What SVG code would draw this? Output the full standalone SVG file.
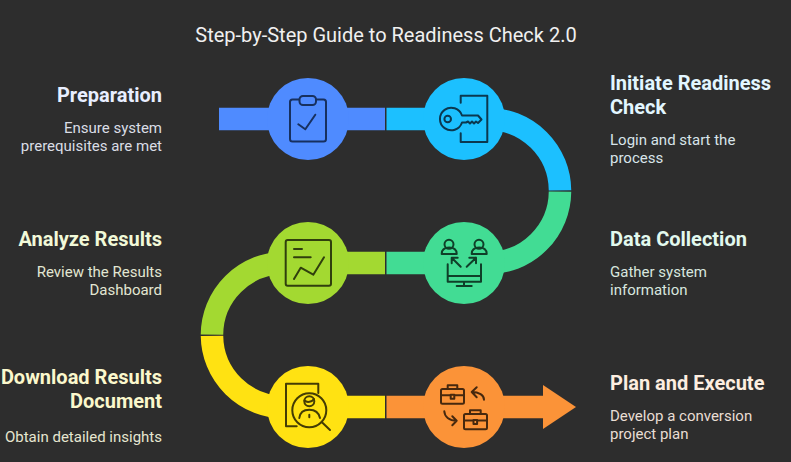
<svg xmlns="http://www.w3.org/2000/svg" width="791" height="462" viewBox="0 0 791 462">
<style>
text{font-family:"Roboto","Liberation Sans",sans-serif}
.t{font-size:20px;fill:#f0f0f0}
.h{font-size:20px;font-weight:700}
.b{font-size:15px}
.e{text-anchor:end}
.band{fill:none;stroke-width:22.5}
.i{fill:none;stroke-width:2;stroke-linecap:round;stroke-linejoin:round}
</style>
<rect width="791" height="462" fill="#2d2d2d"/>
<text class="t" x="386" y="42" text-anchor="middle">Step-by-Step Guide to Readiness Check 2.0</text>
<g id="connectors">
<path class="band" stroke="#4f8bff" d="M219 119H385"/>
<path class="band" stroke="#1cc0ff" d="M386.5 119H488A72 72 0 0 1 560 190.4"/>
<path class="band" stroke="#42dc94" d="M560 191.6A72 72 0 0 1 488 263H386.5"/>
<path class="band" stroke="#a3d931" d="M385 263H284A72 72 0 0 0 212 334.6"/>
<path class="band" stroke="#ffe212" d="M212 335.8A72 72 0 0 0 284 407H385"/>
<path fill="#fb9338" d="M386.5 395.8H543V385L576 407L543 429V418.2H386.5Z"/>
</g>
<g id="preparation">
<circle cx="308" cy="119" r="41" fill="#4f8bff"/>
<g class="i" stroke="#17305f"><rect x="290" y="99.5" width="36" height="42" rx="2.5"/><rect x="299.5" y="96" width="16.5" height="9" rx="3.5" fill="#4f8bff"/><path d="M298.3 124.3L305.3 129.3L315.3 114.7"/></g>
<text class="h e" x="162" y="102" fill="#e8eeff">Preparation</text>
<text class="b e" x="162" y="133" fill="#dadde5">Ensure system</text>
<text class="b e" x="162" y="151" fill="#dadde5">prerequisites are met</text>
</g>
<g id="initiate">
<circle cx="464" cy="119" r="41" fill="#1cc0ff"/>
<g class="i" stroke="#0b3850"><path d="M460.7 102.7V95.7H487.3V142H460.7V133.3"/><path d="M462 115.5H478L481.5 119.5L478 123L476 121.5L474 123.5L472 121.5L470 123.5L468 121.5L466 122.5H462A11.3 11.3 0 1 1 462 115.5Z"/><circle cx="447.7" cy="119" r="3.3"/></g>
<text class="h" x="610" y="90" fill="#e2f6ff">Initiate Readiness</text>
<text class="h" x="610" y="114" fill="#e2f6ff">Check</text>
<text class="b" x="610" y="145" fill="#d8e4ea">Login and start the</text>
<text class="b" x="610" y="163" fill="#d8e4ea">process</text>
</g>
<g id="data-collection">
<circle cx="464" cy="263" r="41" fill="#42dc94"/>
<g class="i" stroke="#0f3f29"><circle cx="449" cy="244.3" r="4.5"/><path d="M441.7 254C441.7 249 444.7 247.5 449.2 247.5S456.7 249 456.7 254Z"/><circle cx="479" cy="244.3" r="4.5"/><path d="M471.7 254C471.7 249 474.7 247.5 479.2 247.5S486.7 249 486.7 254Z"/><path d="M460.7 266.7L451.7 257.7M451.7 263.3V257.7H457.7M466.7 266.7L476 257.7M469.3 257.7H476V263.3"/><path d="M447.7 264.3V281.7H481V264.3M447.7 276H481M464 281.7V286M456.7 286H471.7"/></g>
<text class="h" x="610" y="246" fill="#e2f9ee">Data Collection</text>
<text class="b" x="610" y="277" fill="#d8e6df">Gather system</text>
<text class="b" x="610" y="295" fill="#d8e6df">information</text>
</g>
<g id="analyze">
<circle cx="308" cy="263" r="41" fill="#a3d931"/>
<g class="i" stroke="#303f0d"><rect x="285.7" y="240" width="45.3" height="45.7" rx="2"/><path d="M294 249H302M294 257.3H310.7M294 279L300.7 267.7L313.3 274.7L324 257.3"/></g>
<text class="h e" x="162" y="246" fill="#f1f9d8">Analyze Results</text>
<text class="b e" x="162" y="277" fill="#e2e6d2">Review the Results</text>
<text class="b e" x="162" y="295" fill="#e2e6d2">Dashboard</text>
</g>
<g id="download">
<circle cx="308" cy="407" r="41" fill="#ffe212"/>
<g class="i" stroke="#443c04"><path d="M318.3 393V383.7H286V426.3H296.7"/><circle cx="309.3" cy="410.3" r="17"/><path d="M321.7 422L330 430"/><circle cx="309.3" cy="401.3" r="5"/><path d="M304.5 400.5C307 403 312 402 314 399"/><path d="M299.3 418C300 412 304 409.7 309.3 409.7S318.7 412 320 418M309.3 414.7V417.3"/></g>
<text class="h e" x="162" y="384" fill="#fbf8cc">Download Results</text>
<text class="h e" x="162" y="408" fill="#fbf8cc">Document</text>
<text class="b e" x="162" y="442" fill="#e6e6d0">Obtain detailed insights</text>
</g>
<g id="plan">
<circle cx="464" cy="407" r="41" fill="#fb9338"/>
<g class="i" stroke="#46280e"><rect x="441" y="389" width="23" height="14.7" rx="1.5"/><path d="M447.7 389V385.3H457.3V389M441 395.3H450.7M454.3 395.3H464"/><rect x="450.7" y="394.7" width="3.6" height="4" fill="#fb9338"/><rect x="464" y="414" width="23" height="15.3" rx="1.5"/><path d="M470 414V410.3H480.7V414M464 420.5H473.5M477 420.5H487"/><rect x="473.5" y="420" width="3.6" height="4" fill="#fb9338"/><path d="M484 399.7C484 395 479 392 471.7 392M476.7 387.3L471.7 392L476.7 397.3"/><path d="M444.3 411.3C444.5 416.5 449 420.7 456.7 420.7M452.3 416.3L456.7 420.7L452.3 425.3"/></g>
<text class="h" x="610" y="390" fill="#fdeee0">Plan and Execute</text>
<text class="b" x="610" y="421" fill="#e9ded4">Develop a conversion</text>
<text class="b" x="610" y="439" fill="#e9ded4">project plan</text>
</g>
</svg>
